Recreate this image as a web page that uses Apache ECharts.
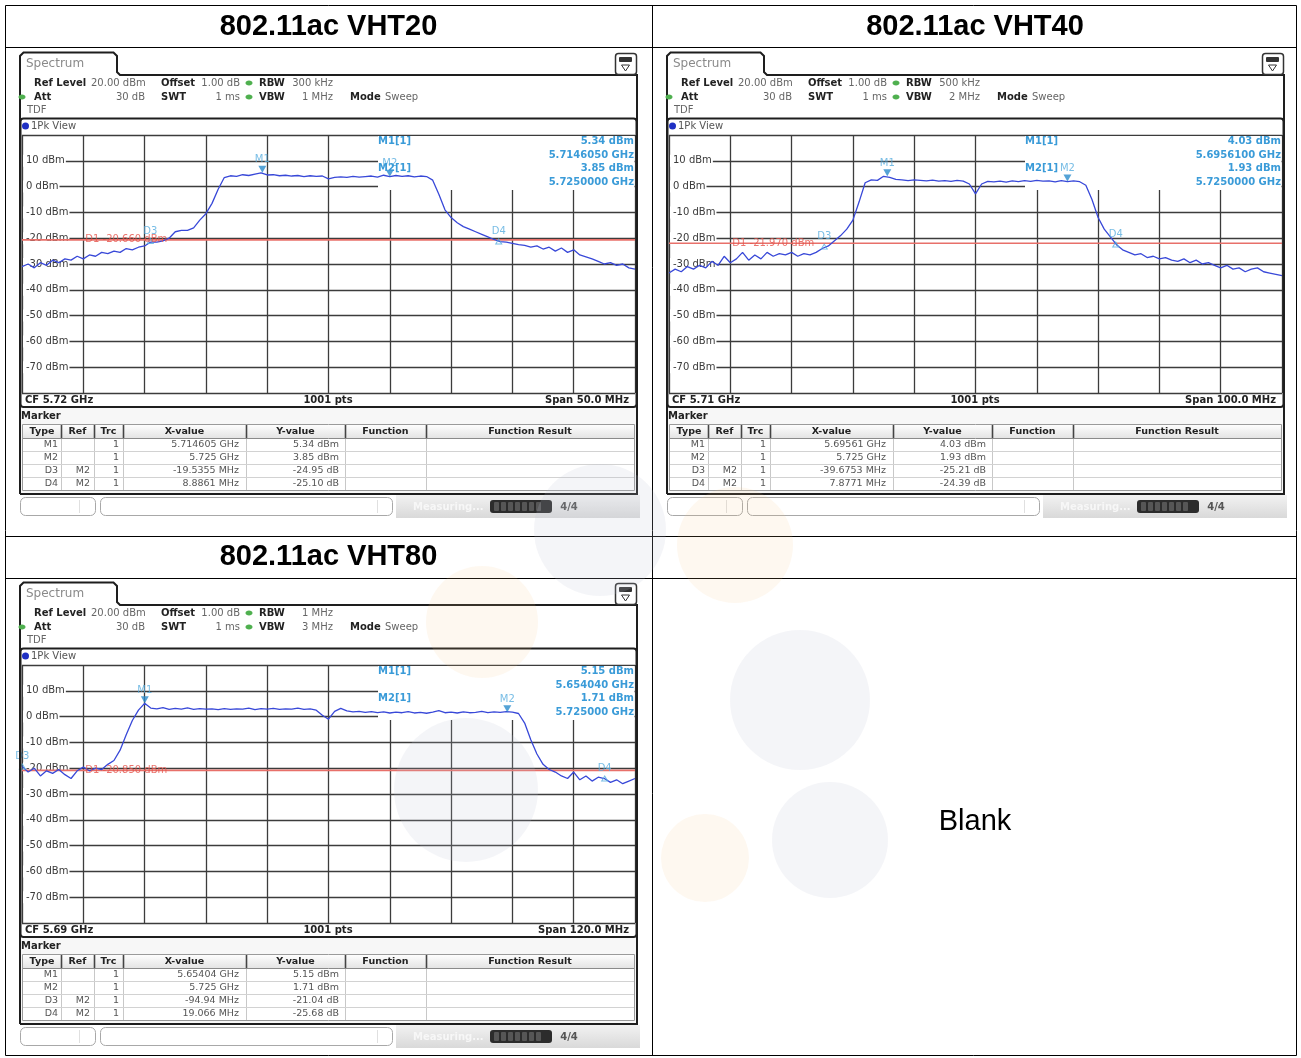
<!DOCTYPE html>
<html>
<head>
<meta charset="utf-8">
<title>802.11ac band-edge spectra</title>
<script src="https://cdn.jsdelivr.net/npm/echarts@6/dist/echarts.min.js"></script>
<style>
  html, body { margin: 0; padding: 0; background: #fff; }
  #c { width: 1301px; height: 1058px; }
</style>
</head>
<body>
<div id="c"></div>
<script>
// ---------------- data ----------------
// y grid of every analyzer screen (dBm)
const yTicks = [10, 0, -10, -20, -30, -40, -50, -60, -70];
const yTickLabels = ['10 dBm', '0 dBm', '-10 dBm', '-20 dBm', '-30 dBm', '-40 dBm', '-50 dBm', '-60 dBm', '-70 dBm'];
const tableHeader = ['Type', 'Ref', 'Trc', 'X-value', 'Y-value', 'Function', 'Function Result'];

// VHT20: CF 5.72 GHz, span 50 MHz, 101 trace samples across the span
const vht20Start = 5695;
const vht20Span = 50;
const vht20Trace = [
  -31, -30, -31.5, -29.5, -30.5, -28.5, -29.5, -28, -28.5, -27,
  -28, -26.5, -27, -25.5, -26, -25, -25.5, -24, -24.5, -23.5,
  -23, -21.5, -21.5, -21, -20, -17.5, -17, -17, -16, -13,
  -10.5, -6.5, -1, 3.5, 4.2, 4, 4.6, 4.3, 4.8, 5.3,
  4.5, 4.6, 4.2, 4.4, 4.1, 4.3, 3.9, 4.2, 4, 4.1,
  3, 3.6, 3.8, 3.6, 4, 3.7, 3.9, 4.1, 3.7, 4.4,
  3.85, 4.3, 4, 4.2, 3.8, 4.1, 3.9, 2.5, -3, -9,
  -12, -14, -15.5, -16.5, -17.5, -18.5, -19.5, -20.5, -21.3, -21.5,
  -22, -22.5, -22.8, -23.5, -23, -24.2, -23.5, -25, -23.8, -25.5,
  -24.5, -26.5, -27.2, -28, -29, -30, -29.5, -30.5, -30, -31.5,
  -32
];
const vht20Table = [
  ['M1', '', '1', '5.714605 GHz', '5.34 dBm'],
  ['M2', '', '1', '5.725 GHz', '3.85 dBm'],
  ['D3', 'M2', '1', '-19.5355 MHz', '-24.95 dB'],
  ['D4', 'M2', '1', '8.8861 MHz', '-25.10 dB']
];
const vht20Readout = ['5.34 dBm', '5.7146050 GHz', '3.85 dBm', '5.7250000 GHz'];
const vht20DisplayLine = -20.66;
const vht20Settings = ['300 kHz', '1 MHz', 'CF 5.72 GHz', 'Span 50.0 MHz'];

// VHT40: CF 5.71 GHz, span 100 MHz
const vht40Start = 5660;
const vht40Span = 100;
const vht40Trace = [
  -33.5, -32, -33, -31, -32, -30.5, -31.5, -29, -30.5, -27,
  -29.5, -28, -25.5, -28.5, -26.5, -28, -25.5, -27, -26, -26.5,
  -25.5, -27, -26, -26.5, -25.5, -24, -23, -21, -19, -16.5,
  -13, -6, 1.5, 2.6, 2.4, 4, 3.6, 2.8, 2.6, 2.3,
  2.6, 2.4, 2.2, 2.5, 2.1, 2.3, 2, 2.4, 2.1, 1,
  -2.8, 1, 2, 1.8, 2.1, 1.7, 2.2, 1.9, 2.3, 2,
  2.4, 2.1, 2.2, 1.8, 2.3, 1.93, 2.2, 1.9, 0.5, -5,
  -12, -16.5, -19.5, -22.5, -24.5, -25.5, -26.5, -26, -27.5, -27,
  -28, -27.5, -28.5, -29, -28, -29.5, -28.5, -30, -29.5, -30.5,
  -31.5, -30.5, -32, -31.5, -33, -32, -31.5, -33, -33.5, -34,
  -34.5
];
const vht40Table = [
  ['M1', '', '1', '5.69561 GHz', '4.03 dBm'],
  ['M2', '', '1', '5.725 GHz', '1.93 dBm'],
  ['D3', 'M2', '1', '-39.6753 MHz', '-25.21 dB'],
  ['D4', 'M2', '1', '7.8771 MHz', '-24.39 dB']
];
const vht40Readout = ['4.03 dBm', '5.6956100 GHz', '1.93 dBm', '5.7250000 GHz'];
const vht40DisplayLine = -21.97;
const vht40Settings = ['500 kHz', '2 MHz', 'CF 5.71 GHz', 'Span 100.0 MHz'];

// VHT80: CF 5.69 GHz, span 120 MHz
const vht80Start = 5630;
const vht80Span = 120;
const vht80Trace = [
  -19.3, -21.5, -20, -23, -21, -22, -20.5, -22.5, -24, -21,
  -19.6, -21, -20, -20.5, -18.5, -17, -13, -7, -1.5, 2.5,
  5.15, 3.3, 3, 3.5, 2.8, 3.2, 2.9, 3.4, 2.8, 3.1,
  2.9, 3, 2.7, 3.1, 2.8, 3, 2.9, 3.3, 2.7, 3.1,
  2.9, 3.2, 2.8, 3, 2.9, 3.3, 2.8, 3, 2.5, 0.5,
  -1, 2, 3.2, 2.2, 1.8, 2, 1.6, 1.9, 1.5, 1.8,
  1.4, 1.7, 1.5, 1.9, 1.4, 1.6, 1.3, 1.7, 2.3, 1.5,
  1.7, 1.4, 1.8, 1.5, 1.6, 2, 1.5, 1.8, 1.6, 1.9,
  1.7, 1.2, -2.5, -9, -14.5, -18.5, -20.5, -21.5, -23, -24,
  -21.5, -24.5, -23, -25, -23.5, -24, -25.5, -24.5, -26, -25,
  -24
];
const vht80Table = [
  ['M1', '', '1', '5.65404 GHz', '5.15 dBm'],
  ['M2', '', '1', '5.725 GHz', '1.71 dBm'],
  ['D3', 'M2', '1', '-94.94 MHz', '-21.04 dB'],
  ['D4', 'M2', '1', '19.066 MHz', '-25.68 dB']
];
const vht80Readout = ['5.15 dBm', '5.654040 GHz', '1.71 dBm', '5.725000 GHz'];
const vht80DisplayLine = -20.85;
const vht80Settings = ['1 MHz', '3 MHz', 'CF 5.69 GHz', 'Span 120.0 MHz'];

// ---------------- layout ----------------
const FONT = 'DejaVu Sans';
const DOC_FONT = 'Liberation Sans';
const TRACE = '#3848d8';
const MARK = '#3a9bd8';

// dx/dy shift each analyzer screen from the VHT20 one
const panels = [
  { title: '802.11ac VHT20', dx: 0, dy: 0, start: vht20Start, span: vht20Span, trace: vht20Trace,
    table: vht20Table, readout: vht20Readout, dl: vht20DisplayLine, settings: vht20Settings },
  { title: '802.11ac VHT40', dx: 647, dy: 0, start: vht40Start, span: vht40Span, trace: vht40Trace,
    table: vht40Table, readout: vht40Readout, dl: vht40DisplayLine, settings: vht40Settings },
  { title: '802.11ac VHT80', dx: 0, dy: 530, start: vht80Start, span: vht80Span, trace: vht80Trace,
    table: vht80Table, readout: vht80Readout, dl: vht80DisplayLine, settings: vht80Settings }
];

function toMHz(s) {
  const parts = s.split(' ');
  return parseFloat(parts[0]) * (parts[1] === 'GHz' ? 1000 : 1);
}

// marker positions (MHz from the left edge, dBm) derived from the marker table
function markerPoints(P) {
  const pts = {};
  P.table.forEach(row => {
    if (row[1] === '') {
      pts[row[0]] = [toMHz(row[3]) - P.start, parseFloat(row[4])];
    } else {
      const ref = pts[row[1]];
      pts[row[0]] = [ref[0] + toMHz(row[3]), ref[1] + parseFloat(row[4])];
    }
  });
  return pts;
}

const grids = [], xAxes = [], yAxes = [], series = [];
panels.forEach((P, i) => {
  grids.push({ left: 22 + P.dx, top: 135 + P.dy, width: 613, height: 258 });
  xAxes.push({
    type: 'value', gridIndex: i, min: 0, max: P.span, interval: P.span / 10,
    axisLine: { show: false }, axisTick: { show: false }, axisLabel: { show: false },
    splitLine: { show: true, lineStyle: { color: '#3c3c3c', width: 1.3 } }
  });
  yAxes.push({
    type: 'value', gridIndex: i, min: -80, max: 20, interval: 10,
    axisLine: { show: false }, axisTick: { show: false }, axisLabel: { show: false },
    splitLine: { show: true, lineStyle: { color: '#3c3c3c', width: 1.3 } }
  });
  const step = P.span / (P.trace.length - 1);
  series.push({
    type: 'line', xAxisIndex: i, yAxisIndex: i, z: 4, showSymbol: false, animation: false,
    data: P.trace.map((v, k) => [k * step, v]),
    lineStyle: { color: TRACE, width: 1.3 }
  });
  // display line D1
  series.push({
    type: 'line', xAxisIndex: i, yAxisIndex: i, z: 3, showSymbol: false, animation: false,
    data: [[0, P.dl], [P.span, P.dl]],
    lineStyle: { color: '#e8706a', width: 1.6 }
  });
  series.push({
    type: 'scatter', xAxisIndex: i, yAxisIndex: i, z: 6, animation: false, symbolSize: 0,
    data: [[P.span / 10, P.dl]],
    label: { show: true, position: 'right', distance: 2, formatter: 'D1 ' + P.dl.toFixed(3) + ' dBm',
             color: '#e5524a', fontFamily: FONT, fontSize: 10 }
  });
  const mp = markerPoints(P);
  series.push({
    type: 'scatter', xAxisIndex: i, yAxisIndex: i, z: 6, animation: false,
    data: ['M1', 'M2'].map(n => ({ name: n, value: mp[n] })),
    symbol: 'triangle', symbolRotate: 180, symbolSize: [8, 7], symbolOffset: [0, -3.5],
    itemStyle: { color: '#2a8ccc' },
    label: { show: true, position: 'top', distance: 1, formatter: '{b}', color: '#56acdf',
             fontFamily: FONT, fontSize: 10 }
  });
  series.push({
    type: 'scatter', xAxisIndex: i, yAxisIndex: i, z: 6, animation: false,
    data: ['D3', 'D4'].map(n => ({ name: n, value: mp[n] })),
    symbol: 'triangle', symbolSize: [6, 5],
    itemStyle: { color: 'rgba(0,0,0,0)', borderColor: '#56acdf', borderWidth: 1 },
    label: { show: true, position: 'top', distance: 2, formatter: '{b}', color: '#56acdf',
             fontFamily: FONT, fontSize: 10 }
  });
});

const chart = echarts.init(document.getElementById('c'), null, { renderer: 'canvas' });
chart.setOption({
  animation: false,
  backgroundColor: '#fff',
  grid: grids, xAxis: xAxes, yAxis: yAxes, series: series
});

// ---------------- drawing helpers ----------------
function T(x, y, s, o) {
  o = o || {};
  return {
    type: 'text', x: x, y: y, z: o.z == null ? 10 : o.z, silent: true,
    style: {
      text: s, fontFamily: o.family || FONT, fontSize: o.size || 10, fontWeight: o.weight || 'normal',
      fill: o.color || '#333', align: o.align || 'left', verticalAlign: 'middle',
      textAlign: o.align || 'left', textVerticalAlign: 'middle',
      backgroundColor: o.bg, padding: o.pad
    }
  };
}
function R(x, y, w, h, style, z, r) {
  return { type: 'rect', z: z == null ? 8 : z, silent: true,
           shape: { x: x, y: y, width: w, height: h, r: r || 0 }, style: style };
}
function L(x1, y1, x2, y2, color, w, z) {
  return { type: 'line', z: z == null ? 9 : z, silent: true,
           shape: { x1: x1, y1: y1, x2: x2, y2: y2 }, style: { stroke: color, lineWidth: w || 1 } };
}
function PL(points, color, w, z) {
  return { type: 'polyline', z: z == null ? 9 : z, silent: true,
           shape: { points: points }, style: { stroke: color, lineWidth: w || 1, fill: null } };
}
function C(cx, cy, r, fill, z) {
  return { type: 'circle', z: z == null ? 20 : z, silent: true, shape: { cx: cx, cy: cy, r: r }, style: { fill: fill } };
}
function grad(c1, c2) {
  return { type: 'linear', x: 0, y: 0, x2: 0, y2: 1, colorStops: [{ offset: 0, color: c1 }, { offset: 1, color: c2 }] };
}

const els = [];

// document table
els.push(R(5.5, 5.5, 1291, 1050, { fill: null, stroke: '#000', lineWidth: 1 }, 12));
els.push(L(652.5, 5, 652.5, 1056, '#000', 1, 12));
els.push(L(5, 47.5, 1297, 47.5, '#000', 1, 12));
els.push(L(5, 536.5, 1297, 536.5, '#000', 1, 12));
els.push(L(5, 578.5, 1297, 578.5, '#000', 1, 12));
els.push(T(328.5, 27, panels[0].title, { family: DOC_FONT, size: 29, weight: 'bold', color: '#000', align: 'center' }));
els.push(T(975, 27, panels[1].title, { family: DOC_FONT, size: 29, weight: 'bold', color: '#000', align: 'center' }));
els.push(T(328.5, 557, panels[2].title, { family: DOC_FONT, size: 29, weight: 'bold', color: '#000', align: 'center' }));
els.push(T(975, 822, 'Blank', { family: DOC_FONT, size: 29, color: '#000', align: 'center' }));

panels.forEach((P, gi) => {
  const X = v => v + P.dx, Y = v => v + P.dy;
  const dark = '#1e1e1e';

  // screen outline with the "Spectrum" tab
  els.push(PL([[X(20), Y(494)], [X(20), Y(56)], [X(23.5), Y(52.5)], [X(113.5), Y(52.5)], [X(117), Y(56)],
               [X(117), Y(72)], [X(120), Y(75)], [X(637), Y(75)], [X(637), Y(494)], [X(20), Y(494)]], dark, 2));
  els.push(T(X(26), Y(64), 'Spectrum', { size: 12, color: '#8a8a8a' }));
  // tool icon top right
  els.push(R(X(615.5), Y(53.5), 21, 21, { fill: '#fff', stroke: '#333', lineWidth: 1.5 }, 9, 3));
  els.push(R(X(619), Y(57), 13, 5, { fill: '#333' }, 10, 1));
  els.push(PL([[X(621.5), Y(65)], [X(629.5), Y(65)], [X(625.5), Y(71)], [X(621.5), Y(65)]], '#333', 1, 10));

  // setting lines
  const g = (cx, cy) => ({ type: 'ellipse', z: 10, silent: true, shape: { cx: X(cx), cy: Y(cy), rx: 3.5, ry: 2.5 }, style: { fill: '#4fb04f' } });
  els.push(T(X(34), Y(83), 'Ref Level', { weight: 'bold', color: '#222' }));
  els.push(T(X(91), Y(83), '20.00 dBm', { color: '#666' }));
  els.push(T(X(161), Y(83), 'Offset', { weight: 'bold', color: '#222' }));
  els.push(T(X(240), Y(83), '1.00 dB', { color: '#666', align: 'right' }));
  els.push(g(249, 83));
  els.push(T(X(259), Y(83), 'RBW', { weight: 'bold', color: '#222' }));
  els.push(T(X(333), Y(83), P.settings[0], { color: '#666', align: 'right' }));
  els.push(g(22, 97));
  els.push(T(X(34), Y(97), 'Att', { weight: 'bold', color: '#222' }));
  els.push(T(X(145), Y(97), '30 dB', { color: '#666', align: 'right' }));
  els.push(T(X(161), Y(97), 'SWT', { weight: 'bold', color: '#222' }));
  els.push(T(X(240), Y(97), '1 ms', { color: '#666', align: 'right' }));
  els.push(g(249, 97));
  els.push(T(X(259), Y(97), 'VBW', { weight: 'bold', color: '#222' }));
  els.push(T(X(333), Y(97), P.settings[1], { color: '#666', align: 'right' }));
  els.push(T(X(350), Y(97), 'Mode', { weight: 'bold', color: '#222' }));
  els.push(T(X(385), Y(97), 'Sweep', { color: '#666' }));
  els.push(T(X(27), Y(110), 'TDF', { color: '#666' }));

  // diagram frame
  els.push(R(X(20.5), Y(118.5), 616, 288.5, { fill: null, stroke: dark, lineWidth: 2 }, 9, 3));
  els.push({ type: 'circle', z: 10, silent: true, shape: { cx: X(25.5), cy: Y(126), r: 3.5 }, style: { fill: '#1f30c4' } });
  els.push(T(X(31), Y(126), '1Pk View', { color: '#555' }));

  // marker readout (covers the grid, sits under the trace)
  els.push(R(X(378), Y(136), 256.5, 54, { fill: '#fff' }, 1));
  els.push(T(X(378), Y(141), 'M1[1]', { weight: 'bold', color: MARK }));
  els.push(T(X(378), Y(168), 'M2[1]', { weight: 'bold', color: MARK }));
  [141, 155, 168, 182].forEach((yy, k) => {
    els.push(T(X(634), Y(yy), P.readout[k], { weight: 'bold', color: MARK, align: 'right' }));
  });

  // y labels placed on the axis scale
  yTicks.forEach((v, k) => {
    const pt = chart.convertToPixel({ gridIndex: gi }, [0, v]);
    els.push(T(pt[0] + 1, pt[1], yTickLabels[k], { color: '#3a3a3a', bg: '#fff', pad: [1, 1, 1, 3], z: 1 }));
  });

  // footer
  els.push(T(X(25), Y(400), P.settings[2], { weight: 'bold', color: '#222' }));
  els.push(T(X(328), Y(400), '1001 pts', { weight: 'bold', color: '#222', align: 'center' }));
  els.push(T(X(629), Y(400), P.settings[3], { weight: 'bold', color: '#222', align: 'right' }));

  // marker table
  els.push(R(X(21), Y(408), 615, 85, { fill: '#f7f7f7' }, 7));
  els.push(T(X(21), Y(416), 'Marker', { weight: 'bold', color: '#222' }));
  els.push(R(X(22.5), Y(424.5), 612, 66, { fill: '#fff', stroke: '#9a9a9a', lineWidth: 1 }, 8));
  els.push(R(X(23), Y(425), 611, 13, { fill: grad('#fdfdfd', '#e4e4e4') }, 8));
  els.push(L(X(23), Y(438.5), X(634), Y(438.5), '#8a8a8a', 1));
  const colX = [61, 94, 123, 246, 345, 426];
  colX.forEach(cx => {
    els.push(L(X(cx + 0.5), Y(425), X(cx + 0.5), Y(438), '#444', 1.6));
    els.push(L(X(cx + 0.5), Y(439), X(cx + 0.5), Y(490), '#c8c8c8', 1));
  });
  [451.5, 464.5, 477.5].forEach(yy => els.push(L(X(23), Y(yy), X(634), Y(yy), '#d2d2d2', 1)));
  const headCx = [42, 77.5, 108.5, 184.5, 295.5, 385.5, 530];
  tableHeader.forEach((h, k) => els.push(T(X(headCx[k]), Y(431.5), h, { weight: 'bold', color: '#222', align: 'center', size: 9.5 })));
  const cellRight = [58, 90, 119, 239, 339];
  P.table.forEach((row, r) => {
    row.forEach((cell, k) => {
      if (cell !== '') els.push(T(X(cellRight[k]), Y(445 + r * 13), cell, { color: '#555', align: 'right', size: 9.5 }));
    });
  });

  // status bar
  els.push(R(X(20.5), Y(497.5), 75, 18, { fill: '#fff', stroke: '#a8a8a8', lineWidth: 1 }, 8, 5));
  els.push(L(X(79.5), Y(500), X(79.5), Y(513), '#e0e0e0', 1));
  els.push(R(X(100.5), Y(497.5), 292, 18, { fill: '#fff', stroke: '#a8a8a8', lineWidth: 1 }, 8, 5));
  els.push(L(X(377.5), Y(500), X(377.5), Y(513), '#e0e0e0', 1));
  els.push(R(X(396), Y(495), 244, 23, { fill: grad('#f2f2f2', '#d9d9d9') }, 7));
  els.push(T(X(413), Y(507), 'Measuring...', { color: '#f7f7f7', weight: 'bold' }));
  els.push(R(X(490), Y(500), 62, 13, { fill: '#2c2c2c' }, 8, 3));
  for (let s = 0; s < 7; s++) els.push(R(X(494 + s * 7), Y(502), 5, 9, { fill: '#565656' }, 9, 1));
  els.push(T(X(569), Y(507), '4/4', { color: '#555', weight: 'bold', align: 'center', size: 10 }));
});

// faint logo watermark laid over the page
const wmBlue = 'rgba(190,198,215,0.17)';
const wmOrange = 'rgba(250,196,130,0.12)';
els.push(C(600, 530, 66, wmBlue));
els.push(C(735, 545, 58, wmOrange));
els.push(C(482, 622, 56, wmOrange));
els.push(C(466, 790, 72, wmBlue));
els.push(C(800, 700, 70, wmBlue));
els.push(C(830, 840, 58, wmBlue));
els.push(C(705, 858, 44, wmOrange));

chart.setOption({ graphic: { elements: els } });
</script>
</body>
</html>
